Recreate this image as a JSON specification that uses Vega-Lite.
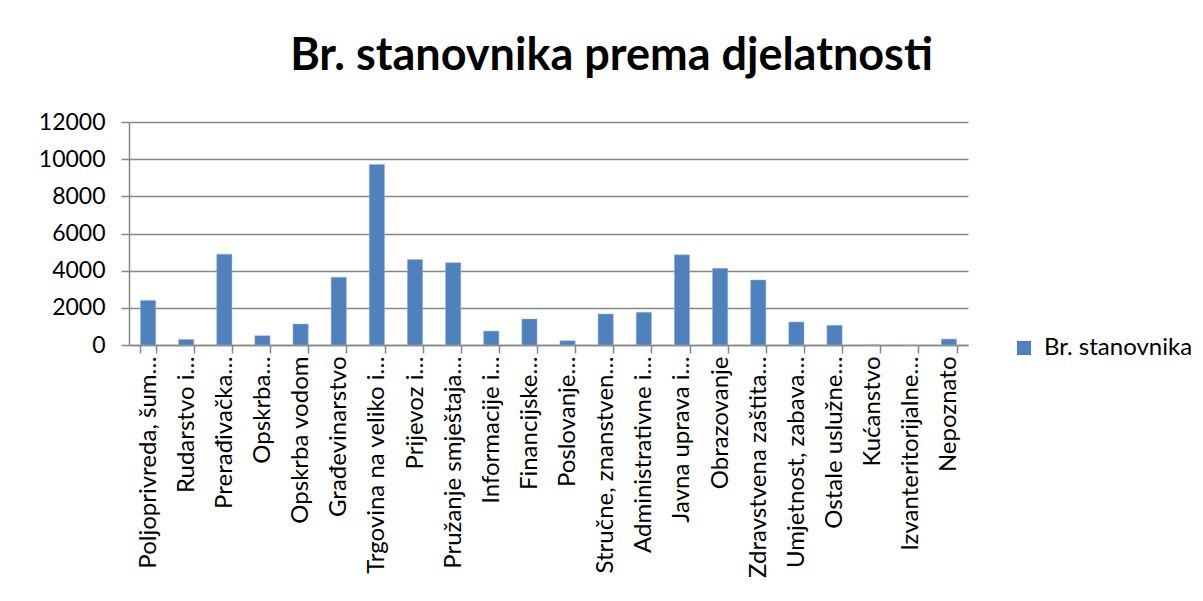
{
  "$schema": "https://vega.github.io/schema/vega-lite/v6.json",
  "autosize": "none",
  "width": 839,
  "height": 223,
  "padding": {"left": 129, "top": 122, "right": 235, "bottom": 256},
  "background": "white",
  "title": {
    "text": "Br. stanovnika prema djelatnosti",
    "font": "Lato",
    "fontSize": 45,
    "fontWeight": "bold",
    "color": "#000000",
    "anchor": "middle",
    "frame": "group",
    "baseline": "alphabetic",
    "offset": -4,
    "dx": 63
  },
  "data": {
    "values": [
      {"djelatnost": "Poljoprivreda, šum…", "broj": 2400},
      {"djelatnost": "Rudarstvo i…", "broj": 300},
      {"djelatnost": "Prerađivačka…", "broj": 4890},
      {"djelatnost": "Opskrba…", "broj": 500},
      {"djelatnost": "Opskrba vodom", "broj": 1130},
      {"djelatnost": "Građevinarstvo", "broj": 3650},
      {"djelatnost": "Trgovina na veliko i…", "broj": 9710},
      {"djelatnost": "Prijevoz i…", "broj": 4600},
      {"djelatnost": "Pružanje smještaja…", "broj": 4430},
      {"djelatnost": "Informacije i…", "broj": 750},
      {"djelatnost": "Financijske…", "broj": 1400},
      {"djelatnost": "Poslovanje…", "broj": 230},
      {"djelatnost": "Stručne, znanstven…", "broj": 1670},
      {"djelatnost": "Administrativne i…", "broj": 1760},
      {"djelatnost": "Javna uprava i…", "broj": 4850},
      {"djelatnost": "Obrazovanje", "broj": 4130},
      {"djelatnost": "Zdravstvena zaštita…", "broj": 3500},
      {"djelatnost": "Umjetnost, zabava…", "broj": 1240},
      {"djelatnost": "Ostale uslužne…", "broj": 1060},
      {"djelatnost": "Kućanstvo", "broj": 10},
      {"djelatnost": "Izvanteritorijalne…", "broj": 0},
      {"djelatnost": "Nepoznato", "broj": 320}
    ]
  },
  "mark": {"type": "bar", "stroke": "#9DB6D8", "strokeWidth": 0.5},
  "encoding": {
    "x": {
      "field": "djelatnost",
      "type": "nominal",
      "sort": null,
      "title": null,
      "scale": {"paddingInner": 0.6, "paddingOuter": 0.3},
      "axis": {
        "labelAngle": -90,
        "labelAlign": "right",
        "labelBaseline": "middle",
        "labelFont": "Lato",
        "labelFontSize": 24,
        "labelColor": "#000000",
        "labelLimit": 0,
        "labelPadding": 3,
        "labelOverlap": false,
        "tickBand": "extent",
        "tickSize": 8,
        "tickColor": "#868686",
        "domainColor": "#868686",
        "domainWidth": 1.5,
        "tickWidth": 1.5
      }
    },
    "y": {
      "field": "broj",
      "type": "quantitative",
      "title": null,
      "scale": {"domain": [0, 12000], "nice": false},
      "axis": {
        "values": [0, 2000, 4000, 6000, 8000, 10000, 12000],
        "format": "d",
        "labelFont": "Lato",
        "labelFontSize": 23,
        "labelColor": "#000000",
        "labelPadding": 16,
        "tickSize": 8,
        "tickColor": "#868686",
        "domainColor": "#868686",
        "domainWidth": 1.5,
        "tickWidth": 1.5,
        "grid": true,
        "gridColor": "#868686",
        "gridWidth": 1.5
      }
    },
    "color": {
      "datum": "Br. stanovnika",
      "type": "nominal",
      "scale": {"range": ["#4F81BD"]},
      "legend": {
        "title": null,
        "orient": "none",
        "legendX": 883,
        "legendY": 214,
        "symbolType": "square",
        "symbolSize": 200,
        "symbolStrokeWidth": 0,
        "labelFont": "Lato",
        "labelFontSize": 24,
        "labelColor": "#000000",
        "labelOffset": 8
      }
    }
  },
  "config": {"view": {"stroke": null}}
}
